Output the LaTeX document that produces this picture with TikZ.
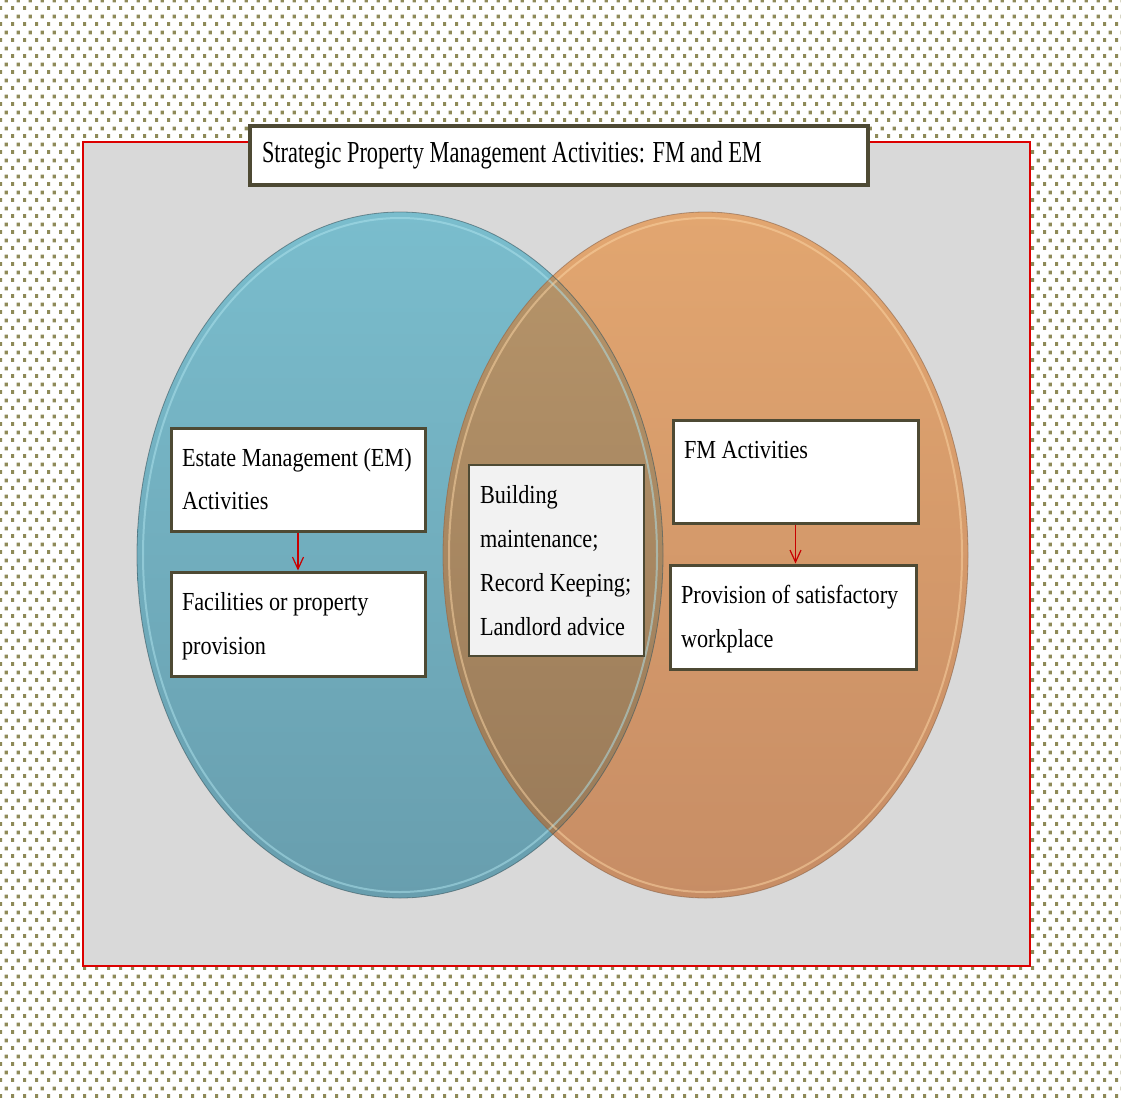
\documentclass[tikz,border=0pt]{standalone}
\usepackage{fontspec}
\usepackage{graphicx}
\setmainfont{Liberation Serif}
\usetikzlibrary{patterns,arrows.meta}

% olive dot grid for the page background
\pgfdeclarepatternformonly{olivedots}{\pgfqpoint{0pt}{0pt}}{\pgfqpoint{12pt}{16pt}}{\pgfqpoint{12pt}{16pt}}{%
  \pgfpathrectangle{\pgfqpoint{0pt}{0pt}}{\pgfqpoint{3.5pt}{4pt}}%
  \pgfpathrectangle{\pgfqpoint{6pt}{8pt}}{\pgfqpoint{3.5pt}{4pt}}%
  \pgfusepath{fill}}

\definecolor{dotcol}{RGB}{142,138,88}
\definecolor{panelgray}{RGB}{217,217,217}
\definecolor{panelred}{RGB}{220,0,0}
\definecolor{boxline}{RGB}{78,74,52}
\definecolor{bluetop}{RGB}{122,189,205}
\definecolor{bluebot}{RGB}{104,158,174}
\definecolor{orangetop}{RGB}{226,166,112}
\definecolor{orangebot}{RGB}{199,141,101}
\definecolor{overtop}{RGB}{183,149,106}
\definecolor{overbot}{RGB}{152,121,88}
\definecolor{bluerim}{RGB}{175,228,238}
\definecolor{orangerim}{RGB}{252,214,165}
\definecolor{arrowred}{RGB}{200,0,0}

% condensed, left-aligned block of lines in a slot of fixed width
% #1 slot width, #2 horizontal squeeze, #3 lines
\newcommand\condensedlines[3]{%
  \makebox[#1][l]{\raisebox{1.5pt}{\scalebox{#2}[1]{\begin{tabular}{@{}l@{}}#3\end{tabular}}}}}

\tikzset{
  whitebox/.style={draw=boxline, line width=3pt, fill=white, rectangle,
    inner xsep=11pt, inner ysep=0pt, text=black,
    font=\fontsize{26}{43.5}\selectfont},
  notebox/.style={draw=boxline, line width=1.2pt, fill=black!5, rectangle,
    inner xsep=11pt, inner ysep=0pt, text=black,
    font=\fontsize{26}{44}\selectfont},
  headbox/.style={draw=boxline, line width=3.5pt, fill=white, rectangle,
    inner xsep=12pt, inner ysep=0pt, text=black,
    font=\fontsize{30.5}{36}\selectfont},
  flow/.style={draw=arrowred, line width=1.2pt,
    -{Straight Barb[length=12pt,width=11pt,line width=1.2pt]}},
}

\begin{document}
\begin{tikzpicture}[x=1pt,y=-1pt]
\useasboundingbox (0,0) rectangle (1121,1097);

% page background
\fill[white] (0,0) rectangle (1121,1097);
\fill[pattern=olivedots, pattern color=dotcol] (0,0) rectangle (1121,1097);

% grey panel
\draw[panelred, line width=1.4pt, fill=panelgray] (83,142) rectangle (1030,966);

% estate management circle
\shade[top color=bluetop, bottom color=bluebot]
  (400,555) ellipse [x radius=263, y radius=343];
% facilities management circle
\shade[top color=orangetop, bottom color=orangebot]
  (705.5,555) ellipse [x radius=262.5, y radius=343];
% shared area
\begin{scope}
  \clip (400,555) ellipse [x radius=263, y radius=343];
  \shade[top color=overtop, bottom color=overbot]
    (705.5,555) ellipse [x radius=262.5, y radius=343];
\end{scope}

% glossy rims
\draw[bluerim, line width=2pt, opacity=0.5]
  (400,555) ellipse [x radius=257, y radius=337];
\draw[orangerim, line width=2pt, opacity=0.5]
  (705.5,555) ellipse [x radius=256.5, y radius=337];
\draw[black!45!bluebot, line width=0.8pt, opacity=0.6]
  (400,555) ellipse [x radius=263, y radius=343];
\draw[black!30!orangebot, line width=0.8pt, opacity=0.6]
  (705.5,555) ellipse [x radius=262.5, y radius=343];

% title
\node[headbox, minimum width=618pt, minimum height=59pt]
  (title) at (559,155.5)
  {\condensedlines{594pt}{0.733}{Strategic Property Management Activities: FM and EM}};

% estate management side
\node[whitebox, minimum width=254pt, minimum height=103pt]
  (em) at (298,479.5) {\condensedlines{232pt}{0.855}{Estate Management (EM)\\Activities}};
\node[whitebox, minimum width=254pt, minimum height=104pt]
  (fac) at (298,624) {\condensedlines{232pt}{0.855}{Facilities or property\\provision}};

% shared activities
\node[notebox, minimum width=175pt, minimum height=191pt]
  (mid) at (556.5,560.5) {\condensedlines{153pt}{0.855}{Building\\maintenance;\\Record Keeping;\\Landlord advice}};

% facilities management side
\node[whitebox, minimum width=245pt, minimum height=103pt]
  (fm) at (795.5,471.5) {\condensedlines{223pt}{0.855}{FM Activities\\\mbox{}}};
\node[whitebox, minimum width=246pt, minimum height=104pt]
  (prov) at (793,617) {\condensedlines{224pt}{0.855}{Provision of satisfactory\\workplace}};

% connectors
\draw[flow] (em.south) -- (fac.north);
\draw[flow] (fm.south) -- (fm.south |- prov.north);
\end{tikzpicture}
\end{document}
